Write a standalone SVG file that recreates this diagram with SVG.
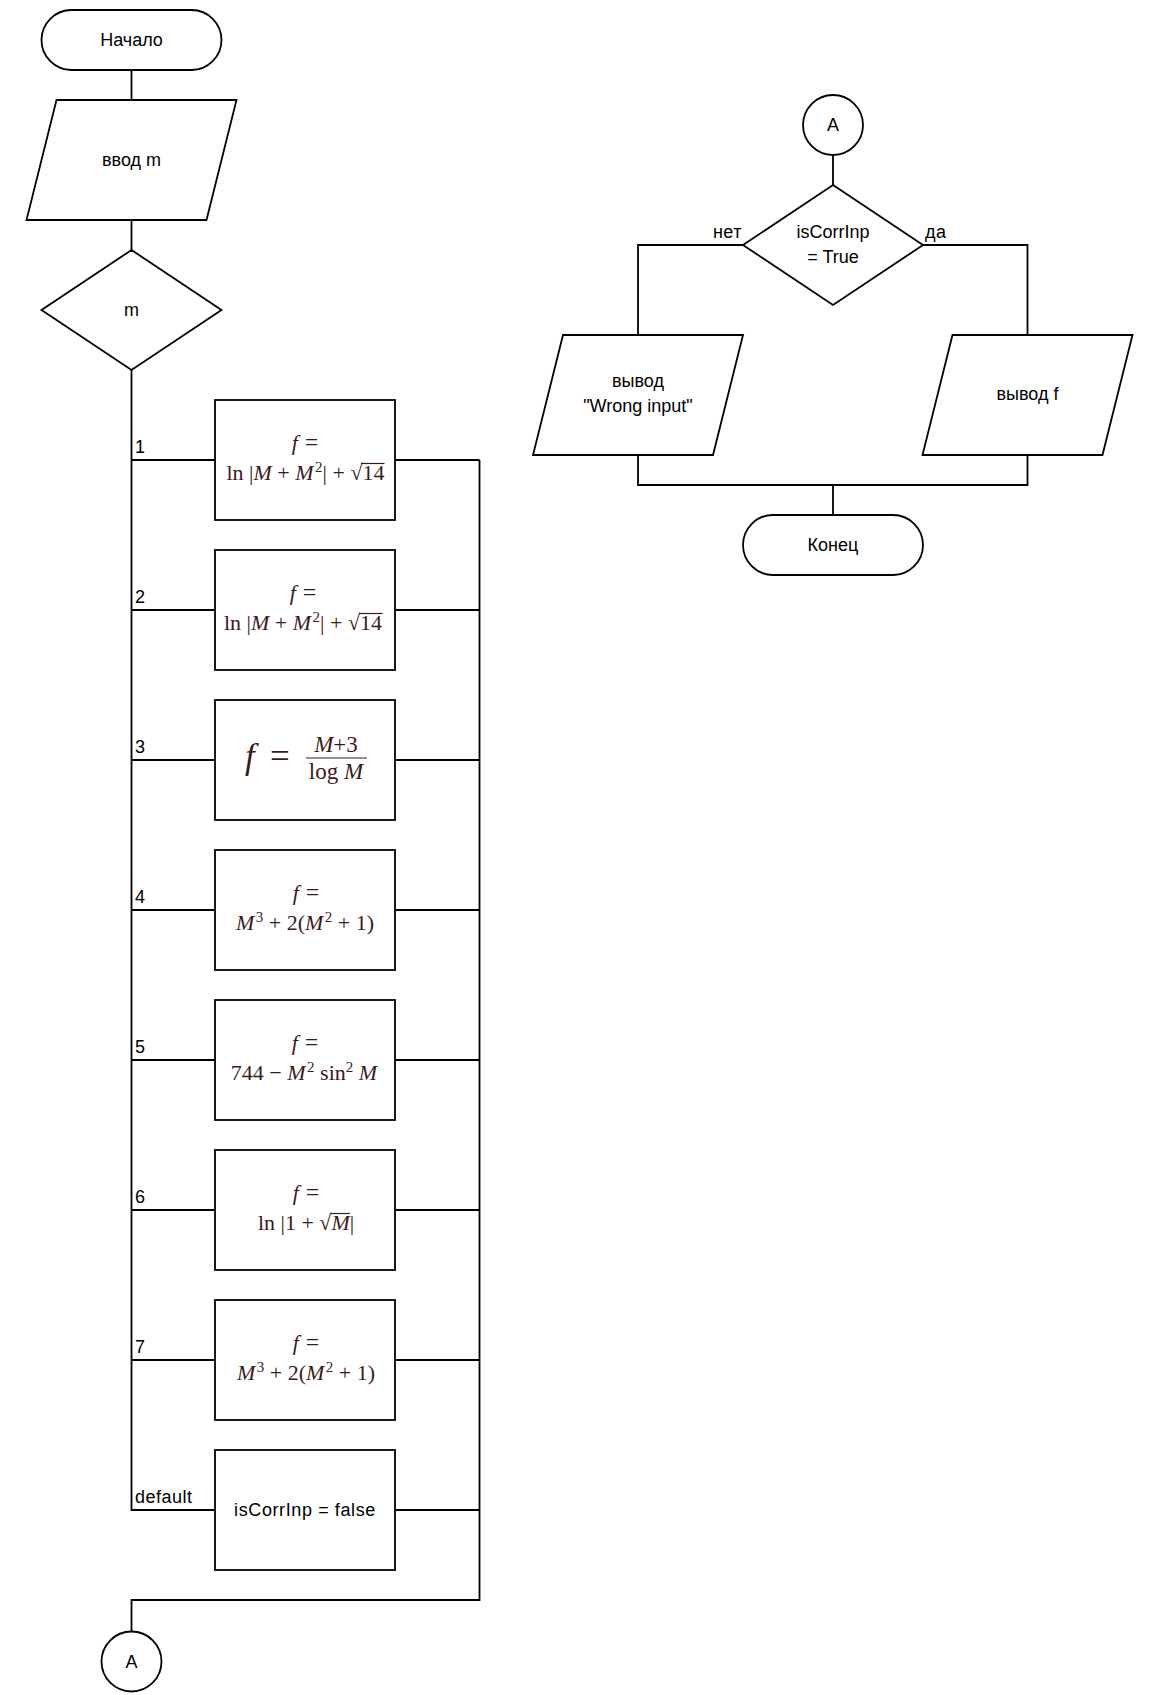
<svg xmlns="http://www.w3.org/2000/svg" width="1168" height="1695" viewBox="0 0 1168 1695">
<style>
.ln{fill:none;stroke:#000;stroke-width:1.8}
.sh{fill:#fff;stroke:#000;stroke-width:1.8}
.tx{font-family:"Liberation Sans","DejaVu Sans",sans-serif;font-size:18px;fill:#000;text-anchor:middle}
.lb{font-family:"Liberation Sans","DejaVu Sans",sans-serif;font-size:18px;fill:#000;letter-spacing:0.5px}
.mt{font-family:"Liberation Serif","DejaVu Serif",serif;font-size:22px;fill:#3b1a1a;text-anchor:middle}
.big{font-size:35px;text-anchor:start}
.fr{font-size:23px}
.it{font-style:italic}
.sp{font-size:15px}
.eq{font-size:24px}
.vl{fill:none;stroke:#3b1a1a;stroke-width:1.2}
</style>
<rect width="1168" height="1695" fill="#fff"/>
<g id="connectors">
<g class="ln">
<path d="M131.5 70V100"/>
<path d="M131.5 220V250"/>
<path d="M131.5 370V1510H215"/>
<path d="M131.5 460H215"/>
<path d="M131.5 610H215"/>
<path d="M131.5 760H215"/>
<path d="M131.5 910H215"/>
<path d="M131.5 1060H215"/>
<path d="M131.5 1210H215"/>
<path d="M131.5 1360H215"/>
<path d="M395 460H479.5"/>
<path d="M395 610H479.5"/>
<path d="M395 760H479.5"/>
<path d="M395 910H479.5"/>
<path d="M395 1060H479.5"/>
<path d="M395 1210H479.5"/>
<path d="M395 1360H479.5"/>
<path d="M395 1510H479.5"/>
<path d="M479.5 460V1600H131.5V1631.5"/>
<path d="M833 155V185"/>
<path d="M743 245H638V335"/>
<path d="M923 245H1027.5V335"/>
<path d="M638 455V485H1027.5V455"/>
<path d="M833 485V515"/>
</g>
<text class="lb" x="135" y="453">1</text>
<text class="lb" x="135" y="603">2</text>
<text class="lb" x="135" y="753">3</text>
<text class="lb" x="135" y="903">4</text>
<text class="lb" x="135" y="1053">5</text>
<text class="lb" x="135" y="1203">6</text>
<text class="lb" x="135" y="1353">7</text>
<text class="lb" x="135" y="1503">default</text>
<text class="lb" x="742" y="238" text-anchor="end" letter-spacing="1">нет</text>
<text class="lb" x="925" y="238">да</text>
</g>
<g id="start">
<rect class="sh" x="41.5" y="10" width="180" height="60" rx="30"/>
<text class="tx" x="131.5" y="46">Начало</text>
</g>
<g id="input-m">
<polygon class="sh" points="56.5,100 236.5,100 206.5,220 26.5,220"/>
<text class="tx" x="131.5" y="166">ввод m</text>
</g>
<g id="switch-m">
<polygon class="sh" points="131.5,250 221.5,310 131.5,370 41.5,310"/>
<text class="tx" x="131.5" y="316">m</text>
</g>
<g id="case1">
<rect class="sh" x="215" y="400" width="180" height="120"/>
<text class="mt" x="305" y="450"><tspan class="it">f</tspan><tspan class="eq" dx="7">=</tspan></text>
<text class="mt" x="305.5" y="480">ln |<tspan class="it">M</tspan> + <tspan class="it">M</tspan><tspan class="sp" dx="1.5" dy="-8">2</tspan><tspan dy="8">| + √14</tspan></text>
<path class="vl" d="M361 463.5H384.5"/>
</g>
<g id="case2">
<rect class="sh" x="215" y="550" width="180" height="120"/>
<text class="mt" x="303" y="600"><tspan class="it">f</tspan><tspan class="eq" dx="7">=</tspan></text>
<text class="mt" x="303" y="630">ln |<tspan class="it">M</tspan> + <tspan class="it">M</tspan><tspan class="sp" dx="1.5" dy="-8">2</tspan><tspan dy="8">| + √14</tspan></text>
<path class="vl" d="M359 613.5H382.5"/>
</g>
<g id="case3">
<rect class="sh" x="215" y="700" width="180" height="120"/>
<text class="mt big" x="245" y="768"><tspan class="it">f</tspan><tspan x="270">=</tspan></text>
<text class="mt fr" x="336" y="752"><tspan class="it">M</tspan>+3</text>
<path class="vl" d="M306 758H367"/>
<text class="mt fr" x="336" y="779">log <tspan class="it">M</tspan></text>
</g>
<g id="case4">
<rect class="sh" x="215" y="850" width="180" height="120"/>
<text class="mt" x="306" y="900"><tspan class="it">f</tspan><tspan class="eq" dx="7">=</tspan></text>
<text class="mt" x="305" y="930"><tspan class="it">M</tspan><tspan class="sp" dx="1.5" dy="-8">3</tspan><tspan dy="8"> + 2(</tspan><tspan class="it">M</tspan><tspan class="sp" dx="1.5" dy="-8">2</tspan><tspan dy="8"> + 1)</tspan></text>
</g>
<g id="case5">
<rect class="sh" x="215" y="1000" width="180" height="120"/>
<text class="mt" x="305" y="1050"><tspan class="it">f</tspan><tspan class="eq" dx="7">=</tspan></text>
<text class="mt" x="304" y="1080">744 − <tspan class="it">M</tspan><tspan class="sp" dx="1.5" dy="-8">2</tspan><tspan dy="8"> sin</tspan><tspan class="sp" dy="-8">2</tspan><tspan dy="8"> </tspan><tspan class="it">M</tspan></text>
</g>
<g id="case6">
<rect class="sh" x="215" y="1150" width="180" height="120"/>
<text class="mt" x="306" y="1200"><tspan class="it">f</tspan><tspan class="eq" dx="7">=</tspan></text>
<text class="mt" x="306" y="1230">ln |1 + √<tspan class="it">M</tspan>|</text>
<path class="vl" d="M330.5 1213.5H350"/>
</g>
<g id="case7">
<rect class="sh" x="215" y="1300" width="180" height="120"/>
<text class="mt" x="306" y="1350"><tspan class="it">f</tspan><tspan class="eq" dx="7">=</tspan></text>
<text class="mt" x="306" y="1380"><tspan class="it">M</tspan><tspan class="sp" dx="1.5" dy="-8">3</tspan><tspan dy="8"> + 2(</tspan><tspan class="it">M</tspan><tspan class="sp" dx="1.5" dy="-8">2</tspan><tspan dy="8"> + 1)</tspan></text>
</g>
<g id="case-default">
<rect class="sh" x="215" y="1450" width="180" height="120"/>
<text class="tx" x="305" y="1516" letter-spacing="0.6">isCorrInp = false</text>
</g>
<g id="connector-a-out">
<circle class="sh" cx="131.5" cy="1661.5" r="30"/>
<text class="tx" x="131.5" y="1668">A</text>
</g>
<g id="connector-a-in">
<circle class="sh" cx="833" cy="125" r="30"/>
<text class="tx" x="833" y="131">A</text>
</g>
<g id="check">
<polygon class="sh" points="833,185 923,245 833,305 743,245"/>
<text class="tx"><tspan x="833" y="238">isCorrInp</tspan><tspan x="833" y="263">= True</tspan></text>
</g>
<g id="out-wrong">
<polygon class="sh" points="563,335 743,335 713,455 533,455"/>
<text class="tx"><tspan x="638" y="387">вывод</tspan><tspan x="638" y="412">"Wrong input"</tspan></text>
</g>
<g id="out-f">
<polygon class="sh" points="952.5,335 1132.5,335 1102.5,455 922.5,455"/>
<text class="tx" x="1027.5" y="400">вывод f</text>
</g>
<g id="end">
<rect class="sh" x="743" y="515" width="180" height="60" rx="30"/>
<text class="tx" x="833" y="551">Конец</text>
</g>
</svg>
